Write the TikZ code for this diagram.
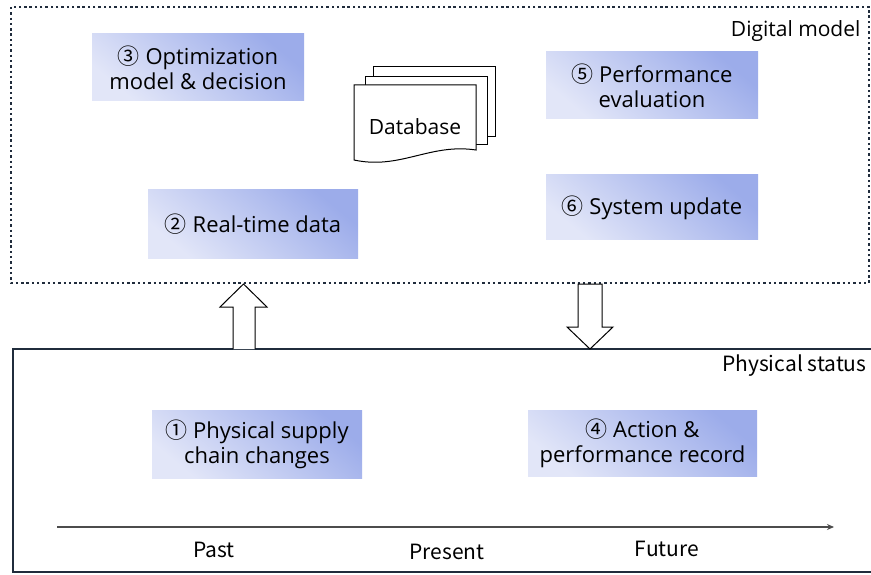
\documentclass[tikz,border=0pt]{standalone}
\usepackage{fontspec}
\setmainfont{Open Sans}
\newfontfamily\cjkfont{Noto Sans CJK SC}
\usetikzlibrary{arrows.meta}
\definecolor{boxdark}{RGB}{156,172,234}
\definecolor{boxlight}{RGB}{226,230,248}
\definecolor{framecol}{RGB}{32,44,60}
\newcommand{\circnum}[1]{{\cjkfont #1}}

\begin{document}
\begin{tikzpicture}[x=1pt,y=-1pt,
  stepbox/.style={top color=boxdark,bottom color=boxlight,shading angle=-40,
    align=center,inner sep=0pt,font=\fontsize{22}{25}\selectfont},
  thinlabel/.style={font=\cjkfont\fontsize{21}{24}\selectfont}]
\useasboundingbox (0,0) rectangle (871,575);
\fill[white] (0,0) rectangle (871,575);

% digital side (dotted) and physical side (solid)
\draw[framecol,line width=2.2pt,dash pattern=on 2.4pt off 2.9pt] (11,7) rectangle (869,283);
\draw[framecol,line width=2.4pt] (13,349) rectangle (876,572);

\node[anchor=east,font=\fontsize{21}{24}\selectfont] (dig) at (864,31) {Digital model};
\node[anchor=east,thinlabel] (phy) at (870,366) {Physical status};

% steps
\node[stepbox,minimum width=212,minimum height=67] (opt) at (198,67.5) {\circnum{③} Optimization\\model \& decision};
\node[stepbox,minimum width=210,minimum height=68] (rtd) at (253,224) {\circnum{②} Real-time data};
\node[stepbox,minimum width=212,minimum height=67] (eva) at (652,85.5) {\circnum{⑤} Performance\\evaluation};
\node[stepbox,minimum width=212,minimum height=65] (upd) at (652,207.5) {\circnum{⑥} System update};
\node[stepbox,minimum width=210,minimum height=68] (chg) at (257,444) {\circnum{①} Physical supply\\chain changes};
\node[stepbox,minimum width=229,minimum height=66] (act) at (642.5,443) {\circnum{④} Action \&\\performance record};

% database sheets
\draw[black,line width=1pt,fill=white] (373,67) rectangle (495,137);
\draw[black,line width=1pt,fill=white] (365,77) rectangle (487,145);
\draw[black,line width=1pt,fill=white] (354,85) -- (476,85) -- (476,150)
  .. controls (430,143) and (400,170) .. (354,160) -- cycle;
\node[font=\fontsize{21}{24}\selectfont] (db) at (415,127) {Database};

% hollow arrows between the two layers
\draw[black,line width=1pt,fill=white] (233,349) -- (233,307) -- (220,307) -- (243.5,284)
  -- (267,307) -- (255,307) -- (255,349);
\draw[black,line width=1pt,fill=white] (578,284) -- (578,327) -- (567,327) -- (590,349)
  -- (613,327) -- (602,327) -- (602,284) -- cycle;

% time axis
\coordinate (t0) at (57,527);
\coordinate (t1) at (834,527);
\draw[black!70,line width=1.2pt,-{Stealth[length=7pt,width=6pt]}] (t0) -- (t1);
\node[thinlabel] (past) at (214,550) {Past};
\node[thinlabel] (now) at (447,552) {Present};
\node[thinlabel] (fut) at (667,549) {Future};

\end{tikzpicture}
\end{document}
